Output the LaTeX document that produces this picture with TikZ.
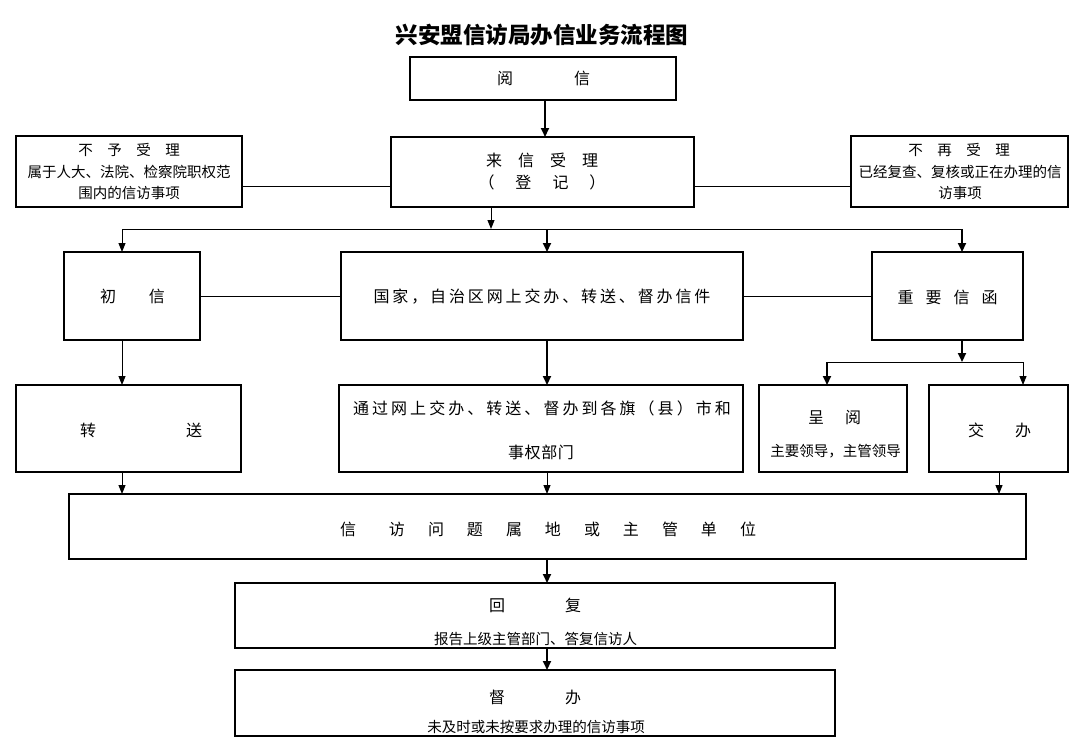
\documentclass[tikz,border=0pt]{standalone}
\usepackage{fontspec}
\setmainfont{Noto Sans CJK SC}
\usetikzlibrary{arrows.meta}
\newcommand{\FSbig}{\fontsize{16pt}{19pt}\selectfont}
\newcommand{\FSsmall}{\fontsize{14.5pt}{17pt}\selectfont}
\newcommand{\FStitle}{\fontsize{22.5pt}{26pt}\selectfont\bfseries}
\begin{document}
\begin{tikzpicture}[x=1pt,y=-1pt,
  box/.style={draw=black,line width=1.1pt,anchor=north west,inner sep=0pt,outer sep=0pt,rectangle},
  txt/.style={inner sep=0pt,font=\FSbig},
  stxt/.style={inner sep=0pt,font=\FSsmall},
  ln/.style={line width=1pt},
  arr/.style={line width=1pt,-{Triangle[length=9pt,width=7pt]}},
  arrb/.style={line width=2pt,-{Triangle[length=9pt,width=8pt]}}]
\useasboundingbox[fill=white] (0,0) rectangle (1089,753);

% title
\node[inner sep=0pt,font=\FStitle] (title) at (542,35) {兴安盟信访局办信业务流程图};

% boxes
\node[box,minimum width=266pt,minimum height=43pt] (yuexin) at (410,57) {};
\node[box,minimum width=303pt,minimum height=70pt] (laixin) at (391,137) {};
\node[box,minimum width=226pt,minimum height=71pt] (buyu) at (16,136) {};
\node[box,minimum width=217pt,minimum height=71pt] (buzai) at (851,136) {};
\node[box,minimum width=136pt,minimum height=88pt] (chuxin) at (64,252) {};
\node[box,minimum width=402pt,minimum height=88pt] (guojia) at (341,252) {};
\node[box,minimum width=151pt,minimum height=88pt] (zhongyao) at (872,252) {};
\node[box,minimum width=225pt,minimum height=87pt] (zhuansong) at (16,385) {};
\node[box,minimum width=404pt,minimum height=87pt] (tongguo) at (339,385) {};
\node[box,minimum width=148pt,minimum height=87pt] (chengyue) at (759,385) {};
\node[box,minimum width=139pt,minimum height=87pt] (jiaoban) at (929,385) {};
\node[box,minimum width=957pt,minimum height=65pt] (wenti) at (69,494) {};
\node[box,minimum width=600pt,minimum height=65pt] (huifu) at (235,583) {};
\node[box,minimum width=600pt,minimum height=66pt] (duban) at (235,670) {};

% texts
\node[txt] (t-yuexin) at (543.5,78) {阅\hspace{61pt}信};
\node[txt] (t-laixin1) at (542,160) {来　信　受　理};
\node[txt] (t-laixin2) at (542,182) {（\hspace{21pt}登\hspace{21pt}记\hspace{21pt}）};
\node[stxt] (t-buyu1) at (129,150) {不　予　受　理};
\node[stxt] (t-buyu2) at (129,172) {属于人大、法院、检察院职权范};
\node[stxt] (t-buyu3) at (129,193) {围内的信访事项};
\node[stxt] (t-buzai1) at (959,150) {不　再　受　理};
\node[stxt] (t-buzai2) at (960,172) {已经复查、复核或正在办理的信};
\node[stxt] (t-buzai3) at (960,193) {访事项};
\node[txt] (t-chuxin) at (132.5,296) {初\hspace{33pt}信};
\node[txt,font={\FSbig\addfontfeatures{LetterSpace=18}}] (t-guojia) at (542,297) {国家，自治区网上交办、转送、督办信件};
\node[txt] (t-zhongyao) at (947.5,297) {重\hspace{12pt}要\hspace{12pt}信\hspace{12pt}函};
\node[txt] (t-zhuansong) at (141,430) {转\hspace{90pt}送};
\node[txt,font={\FSbig\addfontfeatures{LetterSpace=19}}] (t-tongguo1) at (542,408) {通过网上交办、转送、督办到各旗（县）市和};
\node[txt,font={\FSbig\addfontfeatures{LetterSpace=4}}] (t-tongguo2) at (541,452) {事权部门};
\node[txt] (t-chengyue1) at (834.5,418) {呈\hspace{21pt}阅};
\node[stxt] (t-chengyue2) at (835.5,451) {主要领导，主管领导};
\node[txt] (t-jiaoban) at (999.5,430) {交\hspace{31pt}办};
\node[txt] (t-wenti) at (548,529) {信\hspace{33pt}访\hspace{23pt}问\hspace{23pt}题\hspace{23pt}属\hspace{23pt}地\hspace{23pt}或\hspace{23pt}主\hspace{23pt}管\hspace{23pt}单\hspace{23pt}位};
\node[txt] (t-huifu1) at (535,605) {回\hspace{60pt}复};
\node[stxt] (t-huifu2) at (535.5,639) {报告上级主管部门、答复信访人};
\node[txt] (t-duban1) at (535,697) {督\hspace{60pt}办};
\node[stxt] (t-duban2) at (536,727) {未及时或未按要求办理的信访事项};

% helper coordinates
\coordinate (ly) at (0,186);
\coordinate (split) at (491,229);
\coordinate (busL) at (122,229);
\coordinate (busM) at (547,229);
\coordinate (busR) at (962,229);
\coordinate (fork) at (962,362);
\coordinate (forkL) at (827,362);
\coordinate (forkR) at (1023,362);
\coordinate (jx) at (999,0);

% connectors
\draw[arrb] (yuexin.south -| 545,0) -- (laixin.north -| 545,0);
\draw[ln] (buyu.east |- ly) -- (laixin.west |- ly);
\draw[ln] (laixin.east |- ly) -- (buzai.west |- ly);
\draw[arr] (laixin.south -| split) -- (split);
\draw[ln] (busL) -- (busR);
\draw[arr] (busL) -- (busL |- chuxin.north);
\draw[arrb] (busM) -- (busM |- guojia.north);
\draw[arrb] (busR) -- (busR |- zhongyao.north);
\draw[ln] (chuxin.east) -- (guojia.west);
\draw[ln] (guojia.east) -- (zhongyao.west);
\draw[arr] (busL |- chuxin.south) -- (busL |- zhuansong.north);
\draw[arrb] (busM |- guojia.south) -- (busM |- tongguo.north);
\draw[arrb] (fork |- zhongyao.south) -- (fork);
\draw[ln] (forkL) -- (forkR);
\draw[arrb] (forkL) -- (forkL |- chengyue.north);
\draw[arr] (forkR) -- (forkR |- jiaoban.north);
\draw[arr] (busL |- zhuansong.south) -- (busL |- wenti.north);
\draw[arr] (busM |- tongguo.south) -- (busM |- wenti.north);
\draw[arr] (jx |- jiaoban.south) -- (jx |- wenti.north);
\draw[arrb] (busM |- wenti.south) -- (busM |- huifu.north);
\draw[arrb] (busM |- huifu.south) -- (busM |- duban.north);
\end{tikzpicture}
\end{document}
